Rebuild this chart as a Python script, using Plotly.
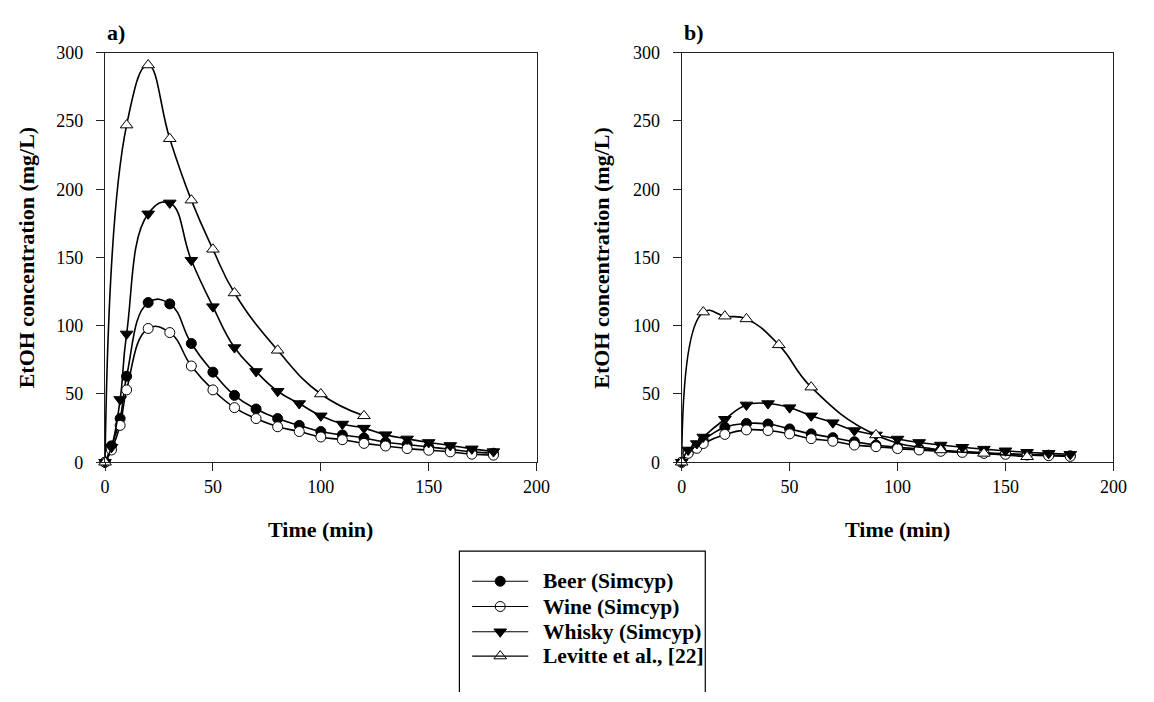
import plotly.graph_objects as go

# ---------------- data ----------------
t_sim = [0, 3, 7, 10, 20, 30, 40, 50, 60, 70, 80, 90, 100, 110, 120, 130, 140, 150, 160, 170, 180]

beer_a = [0, 12, 32, 63, 117, 116, 87, 66, 49, 39, 32, 27, 22.5, 20, 17.8, 14.7, 13, 11.2, 9.5, 7.6, 6.6]
wine_a = [0, 9, 27, 53, 98, 95, 70.5, 53, 40, 32, 26, 22.5, 18.5, 16.5, 13.8, 11.9, 10, 8.8, 7.6, 5.9, 5.2]
whisky_a = [0, 11, 46, 94, 182, 190, 148, 114, 84, 66.5, 52, 43, 34, 28, 25, 20.2, 17.1, 14.5, 12.3, 9.8, 7.8]
t_lev_a = [0, 10, 20, 30, 40, 50, 60, 80, 100, 120]
lev_a = [0, 247, 291, 237, 192, 156, 124, 82, 50, 34]

beer_b = [0, 7, 11.5, 16, 25.6, 28.4, 28, 24.4, 20.8, 18, 15, 12.6, 11, 9.8, 8.7, 7.8, 7, 6.3, 5.7, 5.2, 4.7]
wine_b = [0, 6.5, 10.2, 13.7, 20.4, 23.7, 23.2, 20.8, 17.3, 15.4, 12.6, 11.4, 10, 9, 8, 7.2, 6.5, 5.8, 5.3, 4.8, 4.3]
whisky_b = [0, 9, 13.7, 18.5, 31.5, 42, 43, 40, 34, 29, 23.2, 20, 17, 14.5, 12.6, 11, 9.6, 8.4, 7.3, 6.5, 5.8]
t_lev_b = [0, 10, 20, 30, 45, 60, 90, 120, 140, 160]
lev_b = [0, 110, 107, 105, 86, 55, 20, 9, 6.5, 4]

series_names = ["Beer (Simcyp)", "Wine (Simcyp)", "Whisky (Simcyp)", "Levitte et al., [22]"]
x_ticks = [0, 50, 100, 150, 200]
y_ticks = [0, 50, 100, 150, 200, 250, 300]

# ---------------- styles ----------------
W, H = 1154, 702
FONT = "Liberation Serif"
styles = [
    dict(symbol="circle", size=10, color="black", line=dict(color="black", width=1)),
    dict(symbol="circle", size=10, color="white", line=dict(color="black", width=1)),
    dict(symbol="triangle-down", size=11, color="black", line=dict(color="black", width=1)),
    dict(symbol="triangle-up", size=11, color="white", line=dict(color="black", width=1)),
]

fig = go.Figure()

panels = [
    ("x", "y", [(t_sim, beer_a), (t_sim, wine_a), (t_sim, whisky_a), (t_lev_a, lev_a)]),
    ("x2", "y2", [(t_sim, beer_b), (t_sim, wine_b), (t_sim, whisky_b), (t_lev_b, lev_b)]),
]
for xa, ya, data in panels:
    for i, (tx, vy) in enumerate(data):
        fig.add_trace(go.Scatter(
            x=tx, y=vy, xaxis=xa, yaxis=ya, mode="lines+markers",
            line=dict(color="black", width=1.6, shape="spline", smoothing=1.3),
            marker=styles[i], name=series_names[i], showlegend=False,
            cliponaxis=False,
        ))

# ---------------- manual legend (pixel layout) ----------------
leg_left, leg_top, leg_right = 462, 557, 712
row_y = [588, 614, 640, 665]
line_x0, line_x1, text_x = 475, 532, 545
for i, name in enumerate(series_names):
    fig.add_shape(type="line", xref="x3", yref="y3", x0=line_x0, x1=line_x1,
                  y0=row_y[i], y1=row_y[i], line=dict(color="black", width=1.2), layer="above")
    fig.add_trace(go.Scatter(
        x=[(line_x0 + line_x1) / 2], y=[row_y[i]], xaxis="x3", yaxis="y3", mode="markers",
        marker=styles[i], showlegend=False, hoverinfo="skip", cliponaxis=False))
    fig.add_annotation(x=text_x, y=row_y[i], xref="x3", yref="y3", text="<b>" + name + "</b>",
                       showarrow=False, xanchor="left", yanchor="middle",
                       font=dict(family=FONT, size=21.5, color="black"))
fig.add_shape(type="rect", xref="x3", yref="y3", x0=leg_left, x1=leg_right, y0=leg_top, y1=H + 20,
              line=dict(color="black", width=1.2), fillcolor="rgba(0,0,0,0)")

# ---------------- axes ----------------
ydom = [1 - 465.5 / H, 1 - 44 / H]
xdom_a = [101.7 / W, 540.5 / W]
xdom_b = [688 / W, 1127 / W]

axis_common = dict(
    showgrid=False, zeroline=False, showline=True, mirror=True,
    linecolor="#222", linewidth=1.2, ticks="outside", tickcolor="#222",
    tickwidth=1.2, ticklen=8, tickfont=dict(family=FONT, size=18, color="black"),
)
fig.update_layout(
    width=W, height=H, margin=dict(l=0, r=0, t=0, b=0),
    paper_bgcolor="white", plot_bgcolor="rgba(0,0,0,0)", showlegend=False,
    xaxis=dict(domain=xdom_a, range=[0, 200], tickvals=x_ticks, anchor="y", **axis_common),
    yaxis=dict(domain=ydom, range=[0, 300], tickvals=y_ticks, anchor="x", ticklabelstandoff=9, **axis_common),
    xaxis2=dict(domain=xdom_b, range=[0, 200], tickvals=x_ticks, anchor="y2", **axis_common),
    yaxis2=dict(domain=ydom, range=[0, 300], tickvals=y_ticks, anchor="x2", ticklabelstandoff=9, **axis_common),
    xaxis3=dict(domain=[0, 1], range=[0, W], visible=False, anchor="y3", fixedrange=True),
    yaxis3=dict(domain=[0, 1], range=[H, 0], visible=False, anchor="x3", fixedrange=True),
)

# ---------------- titles ----------------
title_font = dict(family=FONT, size=22, color="black")
for px, label in [(102, "a)"), (688, "b)")]:
    fig.add_annotation(x=px / W, y=1 - 23 / H, xref="paper", yref="paper", text="<b>" + label + "</b>",
                       showarrow=False, xanchor="left", yanchor="middle", font=title_font)
for px in [321, 907.5]:
    fig.add_annotation(x=px / W, y=1 - 535 / H, xref="paper", yref="paper", text="<b>Time (min)</b>",
                       showarrow=False, xanchor="center", yanchor="middle", font=title_font)
for px in [22, 607]:
    fig.add_annotation(x=px / W, y=1 - 255 / H, xref="paper", yref="paper",
                       text="<b>EtOH concentration (mg/L)</b>", textangle=-90,
                       showarrow=False, xanchor="center", yanchor="middle", font=title_font)

fig.write_html("out.html")
